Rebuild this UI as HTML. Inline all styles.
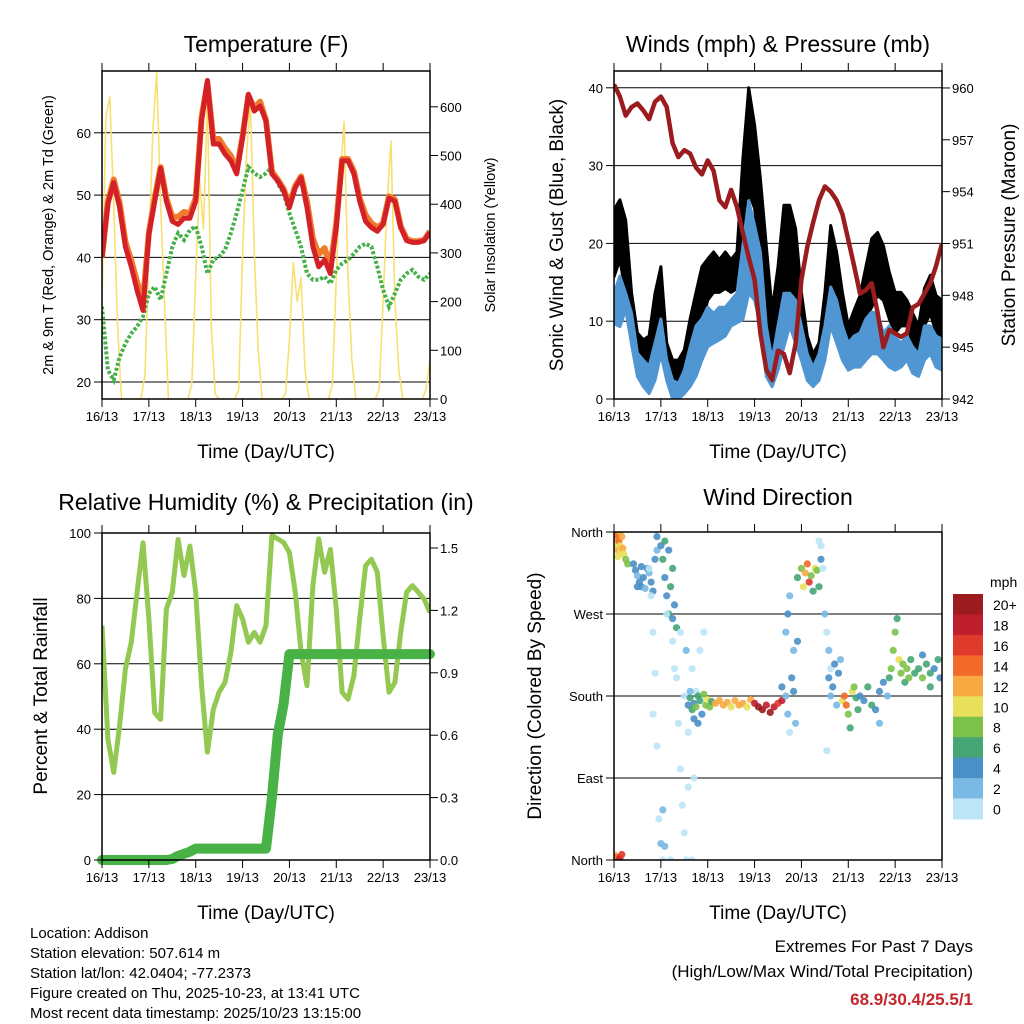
<!DOCTYPE html>
<html><head><meta charset="utf-8">
<style>
html,body{margin:0;padding:0;background:#fff;}
svg{display:block;font-family:"Liberation Sans",sans-serif;}
</style></head>
<body>
<svg id="chart" width="1024" height="1024" viewBox="0 0 1024 1024" xmlns="http://www.w3.org/2000/svg">
<defs>
<clipPath id="c1"><rect x="102" y="71" width="328" height="328"/></clipPath>
<clipPath id="c2"><rect x="614" y="71" width="328" height="328"/></clipPath>
<clipPath id="c3"><rect x="102" y="533" width="328" height="327"/></clipPath>
<clipPath id="c4"><rect x="614" y="532" width="328" height="328"/></clipPath>
</defs>
<g id="g1"></g>
<g id="g2"></g>
<g id="g3"></g>
<g id="g4"></g>
<g id="txt">
<text x="266" y="52" font-size="23" text-anchor="middle">Temperature (F)</text>
<text x="778" y="52" font-size="23" text-anchor="middle">Winds (mph) &amp; Pressure (mb)</text>
<text x="266" y="510" font-size="23" text-anchor="middle">Relative Humidity (%) &amp; Precipitation (in)</text>
<text x="778" y="505" font-size="23" text-anchor="middle">Wind Direction</text>
<text x="266" y="458" font-size="19" text-anchor="middle">Time (Day/UTC)</text>
<text x="778" y="458" font-size="19" text-anchor="middle">Time (Day/UTC)</text>
<text x="266" y="919" font-size="19" text-anchor="middle">Time (Day/UTC)</text>
<text x="778" y="919" font-size="19" text-anchor="middle">Time (Day/UTC)</text>
<text transform="translate(53,235) rotate(-90)" font-size="14.5" text-anchor="middle">2m &amp; 9m T (Red, Orange) &amp; 2m Td (Green)</text>
<text transform="translate(495,235) rotate(-90)" font-size="14.5" text-anchor="middle">Solar Insolation (Yellow)</text>
<text transform="translate(563,235) rotate(-90)" font-size="19" text-anchor="middle">Sonic Wind &amp; Gust (Blue, Black)</text>
<text transform="translate(1015,235) rotate(-90)" font-size="19" text-anchor="middle">Station Pressure (Maroon)</text>
<text transform="translate(47,696) rotate(-90)" font-size="19" text-anchor="middle">Percent &amp; Total Rainfall</text>
<text transform="translate(541,696) rotate(-90)" font-size="19" text-anchor="middle">Direction (Colored By Speed)</text>
<g font-size="15">
<text x="30" y="938">Location: Addison</text>
<text x="30" y="958">Station elevation: 507.614 m</text>
<text x="30" y="978">Station lat/lon: 42.0404; -77.2373</text>
<text x="30" y="998">Figure created on Thu, 2025-10-23, at 13:41 UTC</text>
<text x="30" y="1018">Most recent data timestamp: 2025/10/23 13:15:00</text>
</g>
<text x="973" y="952" font-size="17" text-anchor="end">Extremes For Past 7 Days</text>
<text x="973" y="977" font-size="17" text-anchor="end">(High/Low/Max Wind/Total Precipitation)</text>
<text x="973" y="1005" font-size="17" font-weight="bold" fill="#c4262e" text-anchor="end">68.9/30.4/25.5/1</text>
</g>
</svg>
<script>
// ---- data (3-hour steps from 16/13 UTC) ----
const dayLabels = ["16/13","17/13","18/13","19/13","20/13","21/13","22/13","23/13"];
const temp2m = [40,48.6,52,48,41.7,38.5,34.7,31.5,43.7,49,54.3,49,45.8,45.3,46.3,46.3,49,62,68.4,58.2,58.2,56.6,55.5,53.4,59.3,66.2,63.5,64.3,61.9,53.4,52.3,50.7,48,51.2,52.8,48,41.7,38.5,39.6,37.4,44.8,55.5,55.5,53.4,49,45.8,44.8,44.2,45.3,49.5,49,44.8,42.7,42.4,42.4,42.7,44];
const temp9m = [40,49,52.5,48.8,42.5,39.5,36,33,44,49.5,54.5,49.5,46.5,46.5,47.3,47,49.5,62.5,68,59,59,57.5,56.3,54,59.5,66,64,65,62,53.8,52.5,51,48.5,51.5,53,49,43,40.5,41.5,38.5,45.5,55.8,55.8,53.8,49.5,46.8,45.5,44.8,45.5,49.8,49.3,45,43,42.6,42.6,42.8,44.2];
const dewpt = [32.1,21.9,20.3,24,26.2,27.8,28.9,30.5,34.2,35.3,33.2,37.4,41.7,43.9,42.8,44.4,45,41.7,37.4,39.6,40.1,41.2,43.9,47.1,50.8,54.5,53.5,52.9,53.5,54.5,51.9,50.3,47.1,44.4,41.7,37.4,36.4,36.4,36.9,35.8,38,39,39.6,40.6,41.7,42.2,41.7,38.5,34.8,32.1,34.2,36.4,37.4,38,36.9,36.4,37.4];
// solar, 2-hour steps
const solar = [200,580,620,400,150,0,0,0,0,0,0,50,300,550,670,400,200,0,0,0,0,0,0,30,250,450,350,620,150,10,0,0,0,0,0,20,300,500,610,300,100,0,0,0,0,0,0,10,120,280,200,250,60,0,0,0,0,0,0,30,250,450,570,250,80,0,0,0,0,0,0,20,200,400,530,200,60,0,0,0,0,0,0,20,80];
const pressure = [960.2,959.5,958.4,958.9,959.1,958.7,958.2,959.2,959.5,958.9,956.8,956,956.4,956.2,955.4,955,955.8,955.2,953.5,953.1,954.1,953.1,951.6,950.2,948.9,945.8,943.7,943.1,944.8,944.6,943.5,945.2,948.9,950.8,952.2,953.5,954.3,954,953.5,952.7,951.2,949.7,948.1,948.3,948.7,947,945,946,945.8,945.6,945.8,947.3,947.5,948.1,948.7,949.7,951];
const windLo = [9.7,9.3,11.5,7,2.9,1.6,0.7,2.4,5.8,2.4,0,0,0.7,1.6,2.9,5,6.7,7.2,7.6,8.1,9.4,9.8,10.2,13.6,12.7,9.4,2.9,1.6,3.7,6.7,9.4,7.2,5,2.4,1.6,2.4,5,9.4,7.2,5,3.7,4.1,4.1,5,5.8,5.8,5.0,4.1,3.7,4.1,5,3.3,2.9,5,5.8,4.1,3.7];
const windHi = [13.6,15.8,13.6,11,5.9,5,4.2,7.2,10.3,5,2.4,2,3.7,6.7,9.4,10.3,11.8,11,11.8,11.8,12.7,13.6,19.7,25.5,22.3,18.9,9.4,5,9.4,13.6,13.6,12.7,9.4,5.8,4.1,5.8,9.4,14.4,12.7,9.4,7.2,8.1,8.5,10.3,11.2,11,8.5,9.4,8,7.2,8.1,6.7,5.8,9.4,9.4,8.1,7.7];
const gustLo = [15.7,17.9,13.6,9.3,5,5,4.2,5.8,8.5,4.2,1.2,0.7,2.4,5,7.2,9.4,12.7,13.7,13.7,14.2,13.7,14.2,20.2,26.6,24.5,17.9,9.4,5.8,7.2,11.4,13.7,11.4,9.4,5,3.3,4.2,7.2,13.7,12.7,9.4,5.8,7.2,8.1,10.3,11.8,13.3,12.7,10.3,8.5,9.4,9.4,7.2,6.3,9.4,11,8.5,8.1];
const gustHi = [24.3,25.6,23,13.6,8.5,7.6,8.1,13.6,17,7.2,5,5,6.3,10.3,13.7,17,18,18.9,17.9,18.9,17.9,18.9,30.9,40,35.2,28.3,19.7,11.4,17,24.9,24.9,21.9,13.7,8.1,5.8,7.2,13.7,22.3,18.9,13.7,9.4,11.4,13.3,17,20.6,21.4,19.7,16.3,13.7,13.7,12.7,11,9.4,14.2,15.9,13.3,12.7];
const rh = [71.7,37,26.8,41,58.4,66.6,81.9,97,73.7,45,43,76.8,81.9,98,87,96,81.9,53.3,33,46,51.3,54.3,63.5,77.8,73.7,66.6,69.6,66.6,71.7,99.2,98.2,97.1,94,81.9,63.5,53.3,83.9,98.2,88,95,76.8,51.3,49.2,56.4,73.7,90,92,88,68.6,51.3,54.3,69.6,81.9,83.9,81.9,79.8,75.7];
const precip = [0,0,0,0,0,0,0,0,0,0,0,0,0.005,0.02,0.03,0.04,0.055,0.055,0.055,0.055,0.055,0.055,0.055,0.055,0.055,0.055,0.055,0.055,0.055,0.3,0.6,0.75,0.99,0.99,0.99,0.99,0.99,0.99,0.99,0.99,0.99,0.99,0.99,0.99,0.99,0.99,0.99,0.99,0.99,0.99,0.99,0.99,0.99,0.99,0.99,0.99,0.99];
// wind direction observations: hours since 16/13, degrees, speed mph
const dirHours = [0.5,1,1.5,2,2.5,3,3.5,4,4.5,5,6,1,2,3,7,10,11,12,13,14,15,16,17,18,19,20,21,22,12,14,22,24,25,26,27,28,29,30,31,32,26,28,30,18,19,20,21,20,22,23,24,25,26,27,30,32,33,34,35,36,37,38,40,42,44,46,36,38,41,25,40,29,31,34,37,38,39,40,41,42,43,44,45,46,47,48,49,50,39,41,43,52,54,56,58,60,62,64,66,68,70,72,74,76,78,80,82,84,86,86,88,89,90,91,92,93,88,89,90,92,94,94,96,97,98,99,100,101,102,103,104,105,106,105,106,107,108,109,110,111,109,110,111,112,113,114,115,116,117,118,119,120,121,122,123,124,125,126,128,130,132,134,136,138,140,136,141,142,143,144,145,146,147,148,149,150,151,152,154,156,158,160,162,164,166,167,158,162,0.5,1.5,3,4];
const dirDeg = [350,345,355,340,350,345,338,355,342,336,330,357,333,360,325,325,318,312,305,300,310,298,320,315,305,295,330,340,300,322,355,345,330,310,290,270,300,320,280,255,350,340,265,320,290,250,205,160,125,45,18,55,15,270,240,200,150,100,60,30,0,80,210,185,230,250,180,140,90,0,0,0,210,250,230,170,178,165,172,168,180,175,160,182,170,176,168,174,185,155,150,172,175,170,173,168,175,170,172,168,176,172,168,165,170,162,168,172,175,190,180,160,140,200,185,150,250,270,290,230,240,310,320,300,315,325,305,312,295,320,318,300,330,350,345,320,270,250,230,210,120,200,180,190,215,170,205,220,175,180,170,160,145,185,190,178,165,180,175,190,170,165,185,195,180,150,200,210,230,250,265,220,205,215,195,210,200,220,205,210,200,215,205,210,220,200,225,190,5,3,2,6];
const dirSpeed = [12,10,13,12,14,11,10,12,13,10,9,15,10,12,8,4,4,3,4,4,5,3,4,3,4,4,5,3,4,4,4,5,6,4,5,6,7,6,4,6,7,4,5,1,0,1,0,1,0,1,2,2,3,1,0,1,0,1,0,1,0,1,1,1,1,0,1,1,1,1,0,1,1,1,2,4,6,7,5,8,6,7,4,9,8,10,9,6,3,4,5,12,12,13,12,11,12,13,12,11,12,18,20,21,19,20,18,17,19,4,3,2,1,5,4,2,3,4,2,3,4,6,8,10,12,14,16,9,7,11,8,6,5,1,0,1,2,1,2,1,1,4,3,4,4,3,4,3,10,14,15,8,6,11,9,7,6,5,4,7,6,5,4,5,3,2,7,8,9,8,7,10,9,8,7,9,8,6,6,7,8,7,6,5,7,4,5,6,12,15,18,16];
const colorLabels = ["20+","18","16","14","12","10","8","6","4","2","0"];
const tempTicks = [20,30,40,50,60];
const solarTicks = [0,100,200,300,400,500,600];
const windTicks = [0,10,20,30,40];
const presTicks = [942,945,948,951,954,957,960];
const rhTicks = [0,20,40,60,80,100];
const precTicks = [0.0,0.3,0.6,0.9,1.2,1.5];
const dirTicks = ["North","East","South","West","North"];
const palette = ["#9b1b1e","#bf1e2d","#e03a2c","#f26a2a","#f7a942","#e8e05b","#7cc24a","#45a574","#4a8fc6","#7ab9e4","#bde4f7"];

const NS="http://www.w3.org/2000/svg";
function mk(parent,tag,attrs,text){const e=document.createElementNS(NS,tag);for(const k in attrs)e.setAttribute(k,attrs[k]);if(text!==undefined)e.textContent=text;parent.appendChild(e);return e;}

// scales
const xL=h=>102+h/168*328, xR=h=>614+h/168*328;
const yT=v=>382-(v-20)*6.23, yS=v=>399-v*0.487;
const yW=v=>399-v*7.78, yP=v=>399-(v-942)*17.28;
const yRH=v=>860-v*3.27, yPr=v=>860-v*208;
const yD=v=>860-v/360*328;

function frame(g,x0,y0,w,h){
  const r=mk(g,'rect',{x:x0,y:y0,width:w,height:h,fill:'none',stroke:'#000','stroke-width':1.5});
  
  
  for(let d=0;d<=7;d++){
    const x=x0+d*w/7;
    const t1=mk(g,'line',{x1:x,x2:x,y1:y0+h,y2:y0+h+8,stroke:'#000','stroke-width':1});
    
    
    mk(g,'line',{x1:x,x2:x,y1:y0,y2:y0-8,stroke:'#000','stroke-width':1});
    const lb=mk(g,'text',{x:x,y:y0+h+22,'font-size':13,'text-anchor':'middle'},dayLabels[d]);
    
    
  }
}
function grid(g,x0,x1,ys){ys.forEach(y=>{const l=mk(g,'line',{x1:x0,x2:x1,y1:y,y2:y,stroke:'#000','stroke-width':1});});}
function leftTicks(g,x,vals,fy,labels,minor){
  vals.forEach((v,i)=>{const y=fy(v);mk(g,'line',{x1:x-8,x2:x,y1:y,y2:y,stroke:'#000'});
    const t=mk(g,'text',{x:x-11,y:y+5,'font-size':13,'text-anchor':'end'},labels?labels[i]:String(v));
    
    });
}
function rightTicks(g,x,vals,fy,fmt){
  vals.forEach(v=>{const y=fy(v);mk(g,'line',{x1:x,x2:x+8,y1:y,y2:y,stroke:'#000'});
    const t=mk(g,'text',{x:x+10,y:y+5,'font-size':13,'text-anchor':'start'},fmt?fmt(v):String(v));
    
    });
}
function pts(arr,step,fx,fy){return arr.map((v,i)=>fx(i*step).toFixed(1)+','+fy(v).toFixed(1)).join(' ');}

// ---- Panel 1 ----
const g1=document.getElementById('g1');
grid(g1,102,430,tempTicks.map(yT));
const c1=mk(g1,'g',{'clip-path':'url(#c1)'});
const sl=mk(c1,'polyline',{points:pts(solar,2,xL,yS),fill:'none',stroke:'#f8e070','stroke-width':1.6,'stroke-linejoin':'round'});


const dp=mk(c1,'polyline',{points:pts(dewpt,3,xL,yT),fill:'none',stroke:'#46b04a','stroke-width':4,'stroke-dasharray':'3,2'});


const t9=mk(c1,'polyline',{points:pts(temp9m,3,xL,yT),fill:'none',stroke:'#f07b2c','stroke-width':6,'stroke-linejoin':'round'});


const t2=mk(c1,'polyline',{points:pts(temp2m,3,xL,yT),fill:'none',stroke:'#d42027','stroke-width':5,'stroke-linejoin':'round'});


frame(g1,102,71,328,328);
leftTicks(g1,102,tempTicks,yT);
rightTicks(g1,430,solarTicks,yS);

// ---- Panel 2 ----
const g2=document.getElementById('g2');
grid(g2,614,942,[10,20,30,40].map(yW));
const c2=mk(g2,'g',{'clip-path':'url(#c2)'});
function band(g,lo,hi,fx,fy,fill,name){
  const up=hi.map((v,i)=>fx(i*3).toFixed(1)+','+fy(v).toFixed(1));
  const dn=lo.map((v,i)=>fx(i*3).toFixed(1)+','+fy(v).toFixed(1)).reverse();
  const p=mk(g,'polygon',{points:up.concat(dn).join(' '),fill:fill,stroke:fill,'stroke-width':3,'stroke-linejoin':'round'});
  
  
}
band(c2,gustLo,gustHi,xR,yW,'#000','gust-band');
band(c2,windLo,windHi,xR,yW,'#4f96d2','wind-band');
const pl=mk(c2,'polyline',{points:pts(pressure,3,xR,yP),fill:'none',stroke:'#9b1c1f','stroke-width':4.5,'stroke-linejoin':'round'});


frame(g2,614,71,328,328);
leftTicks(g2,614,windTicks,yW);
rightTicks(g2,942,presTicks,yP);

// ---- Panel 3 ----
const g3=document.getElementById('g3');
grid(g3,102,430,[20,40,60,80].map(yRH));
const c3=mk(g3,'g',{'clip-path':'url(#c3)'});
const rl=mk(c3,'polyline',{points:pts(rh,3,xL,yRH),fill:'none',stroke:'#93c952','stroke-width':5,'stroke-linejoin':'round'});


const pr=mk(g3,'polyline',{points:pts(precip,3,xL,yPr),fill:'none',stroke:'#48b246','stroke-width':10,'stroke-linejoin':'round','stroke-linecap':'round'});


frame(g3,102,533,328,327);
leftTicks(g3,102,rhTicks,yRH);
rightTicks(g3,430,precTicks,yPr,v=>v.toFixed(1));

// ---- Panel 4 ----
const g4=document.getElementById('g4');
grid(g4,614,942,[90,180,270].map(yD));
const c4=mk(g4,'g',{'clip-path':'url(#c4)'});
dirHours.forEach((h,i)=>{
  const idx=Math.max(0,10-Math.min(10,Math.floor(dirSpeed[i]/2)));
  const c=mk(c4,'circle',{cx:xR(h).toFixed(1),cy:yD(dirDeg[i]).toFixed(1),r:3.6,fill:palette[idx],'fill-opacity':0.9});
  
  
});
frame(g4,614,532,328,328);
leftTicks(g4,614,[0,90,180,270,360],yD,dirTicks);
// colorbar
const cb=mk(g4,'g',{});


mk(cb,'text',{x:990,y:587,'font-size':14},'mph');
colorLabels.forEach((lab,i)=>{
  const y=594+i*225/11;
  const r=mk(cb,'rect',{x:953,y:y.toFixed(1),width:30,height:(225/11+0.5).toFixed(1),fill:palette[i]});
  
  
  const t=mk(cb,'text',{x:993,y:(y+16).toFixed(1),'font-size':14},lab);
  
  
});
</script>
</body></html>
